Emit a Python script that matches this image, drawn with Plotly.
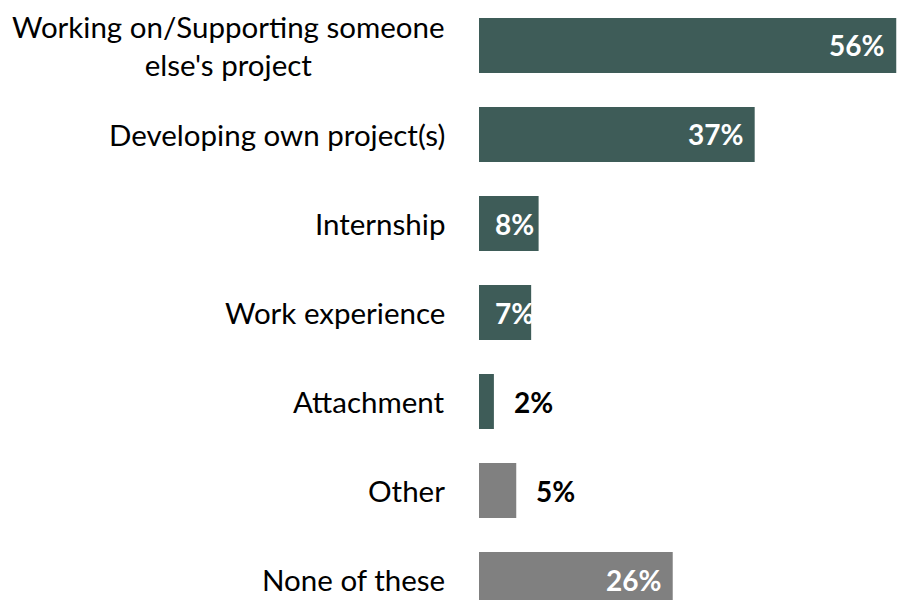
import plotly.graph_objects as go

# Survey responses: share of respondents (%)
categories = [
    "Working on/Supporting someone<br>else's project",
    "Developing own project(s)",
    "Internship",
    "Work experience",
    "Attachment",
    "Other",
    "None of these",
]
values = [56, 37, 8, 7, 2, 5, 26]
groups = ["exp", "exp", "exp", "exp", "exp", "other", "other"]

TEAL = "#3E5C58"
GREY = "#808080"
colors = [TEAL if g == "exp" else GREY for g in groups]

FONT = "Lato"

fig = go.Figure(
    go.Bar(
        x=values,
        y=list(range(len(categories))),
        orientation="h",
        width=0.618,
        marker=dict(color=colors, line=dict(width=0)),
        hoverinfo="skip",
    )
)

annotations = []
for i, (cat, v) in enumerate(zip(categories, values)):
    # category label to the left of the bars, centred on multiple lines
    annotations.append(dict(
        x=0, xref="x", y=i, yref="y", text=cat, showarrow=False,
        xanchor="right", yanchor="middle", align="center", xshift=-32,
        font=dict(family=FONT, size=29.5, color="#000000"),
    ))
    # value label
    if v >= 20:
        lab = dict(x=v, xanchor="right", xshift=-10, color="#FFFFFF")
    elif v >= 6:
        lab = dict(x=0, xanchor="left", xshift=14, color="#FFFFFF")
    else:
        lab = dict(x=v, xanchor="left", xshift=18, color="#000000")
    annotations.append(dict(
        x=lab["x"], xref="x", y=i, yref="y", text=f"<b>{v}%</b>",
        showarrow=False, xanchor=lab["xanchor"], yanchor="middle",
        xshift=lab["xshift"],
        font=dict(family=FONT, size=28, color=lab["color"]),
    ))

fig.update_layout(
    width=897, height=600,
    margin=dict(l=479, r=0, t=0, b=0),
    paper_bgcolor="white", plot_bgcolor="white",
    showlegend=False,
    xaxis=dict(range=[0, 56.1], visible=False, fixedrange=True),
    yaxis=dict(range=[6.230, -0.511], visible=False, fixedrange=True),
    annotations=annotations,
)

fig.write_html("out.html")
